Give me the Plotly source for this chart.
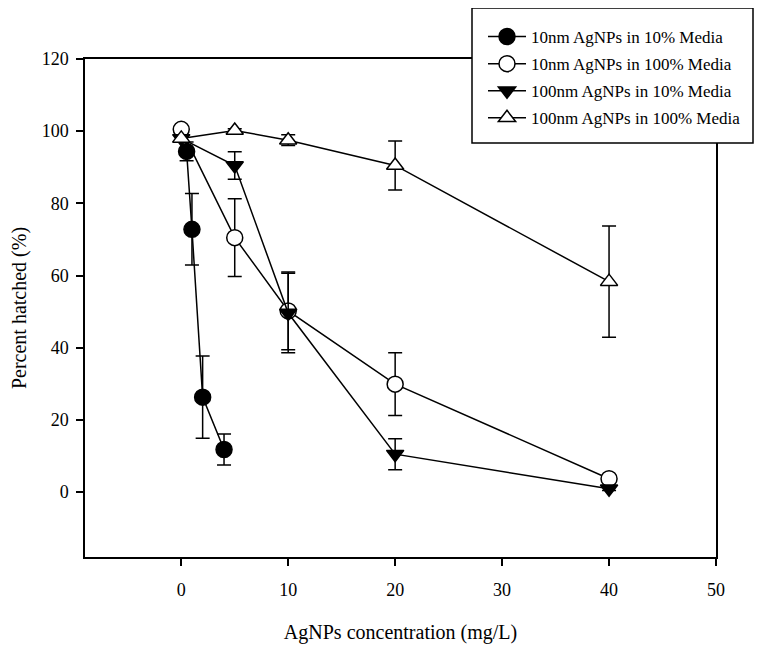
import plotly.graph_objects as go

# ---- data ----
names = [
    "10nm AgNPs in 10% Media",
    "10nm AgNPs in 100% Media",
    "100nm AgNPs in 10% Media",
    "100nm AgNPs in 100% Media",
]
x_10nm_10 = [0.5, 1, 2, 4]
y_10nm_10 = [94.4, 72.8, 26.3, 11.8]
e_10nm_10 = [2.6, 9.9, 11.4, 4.3]

x_10nm_100 = [0, 5, 10, 20, 40]
y_10nm_100 = [100.5, 70.5, 50.2, 29.9, 3.7]
e_10nm_100 = [0.8, 10.8, 10.8, 8.7, 0.5]

x_100nm_10 = [0, 5, 10, 20, 40]
y_100nm_10 = [98.0, 90.5, 49.6, 10.5, 0.9]
e_100nm_10 = [1.0, 3.8, 11.0, 4.3, 0.5]

x_100nm_100 = [0, 5, 10, 20, 40]
y_100nm_100 = [98.0, 100.2, 97.5, 90.5, 58.3]
e_100nm_100 = [0.8, 0.5, 1.5, 6.8, 15.4]

x_ticks = [0, 10, 20, 30, 40, 50]
y_ticks = [0, 20, 40, 60, 80, 100, 120]

FONT = '"Liberation Serif", "Times New Roman", serif'

series = [
    (x_10nm_10, y_10nm_10, e_10nm_10, "circle", "black", 16),
    (x_10nm_100, y_10nm_100, e_10nm_100, "circle", "white", 16),
    (x_100nm_10, y_100nm_10, e_100nm_10, "triangle-down", "black", 15),
    (x_100nm_100, y_100nm_100, e_100nm_100, "triangle-up", "white", 15),
]

fig = go.Figure()
for i, (name, (xs, ys, es, sym, fill, size)) in enumerate(zip(names, series)):
    fig.add_trace(go.Scatter(
        x=xs, y=ys, name=name, mode="lines+markers", legendgroup=f"g{i}",
        line=dict(color="black", width=1.5),
        marker=dict(symbol=sym, size=size, color=fill,
                    line=dict(color="black", width=1.5)),
        error_y=dict(type="data", array=es, visible=True,
                     color="black", thickness=1.5, width=7),
    ))

# plot area in page pixels: x 85..716, y 59..557 (page has 8px body margin)
fig.update_layout(
    width=764, height=652,
    margin=dict(l=77, r=56, t=51, b=103, autoexpand=False),
    paper_bgcolor="white", plot_bgcolor="white",
    font=dict(family=FONT, color="black", size=18),
    showlegend=True,
    legend=dict(
        x=(483 - 85) / 631, y=(557 - 19) / 498, xanchor="left", yanchor="top",
        bgcolor="rgba(0,0,0,0)", borderwidth=0,
        font=dict(family=FONT, size=17, color="black"),
        tracegroupgap=2, itemwidth=38,
    ),
    shapes=[dict(
        type="rect", xref="paper", yref="paper", layer="above",
        x0=(472 - 85) / 631, x1=(753 - 85) / 631,
        y0=(557 - 143) / 498, y1=(557 - 8) / 498,
        line=dict(color="black", width=1.5), fillcolor="white",
    )],
    xaxis=dict(
        range=[-9, 50], tickvals=x_ticks, ticks="outside", ticklen=7,
        tickwidth=1.5, tickcolor="black", automargin=False,
        showline=True, linecolor="black", linewidth=1.5, mirror=True,
        showgrid=False, zeroline=False,
        tickfont=dict(family=FONT, size=18),
        ticklabelstandoff=9,
        title=dict(text="AgNPs concentration (mg/L)",
                   font=dict(family=FONT, size=20), standoff=26),
    ),
    yaxis=dict(
        range=[-18, 120], tickvals=y_ticks, ticks="outside", ticklen=7,
        tickwidth=1.5, tickcolor="black", automargin=False,
        showline=True, linecolor="black", linewidth=1.5, mirror=True,
        showgrid=False, zeroline=False,
        tickfont=dict(family=FONT, size=18),
        ticklabelstandoff=4,
        title=dict(text="Percent hatched (%)",
                   font=dict(family=FONT, size=20), standoff=14),
    ),
)

fig.write_html("out.html")
